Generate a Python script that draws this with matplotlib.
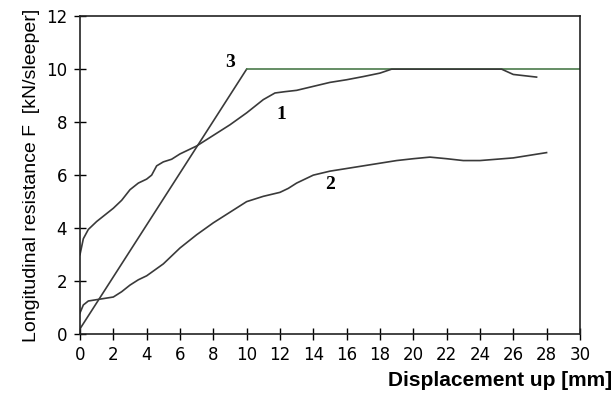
import numpy as np
import matplotlib.pyplot as plt

plt.rcParams['font.family'] = ['Liberation Sans', 'DejaVu Sans']

# curve 1
x1 = [0, 0.2, 0.5, 1, 1.5, 2, 2.5, 3, 3.5, 4, 4.3, 4.6, 5, 5.5, 6, 7, 8, 9, 10, 11,
      11.7, 12.3, 13, 14, 15, 16, 17, 18, 18.7, 20, 22, 24, 25.3, 26, 27.4]
y1 = [3.0, 3.6, 3.95, 4.25, 4.5, 4.75, 5.05, 5.45, 5.7, 5.85, 6.0, 6.35, 6.5, 6.6, 6.8, 7.1, 7.5,
      7.9, 8.35, 8.85, 9.1, 9.15, 9.2, 9.35, 9.5, 9.6, 9.72, 9.85, 10.0, 10.0, 10.0, 10.0, 10.0, 9.8, 9.7]

# curve 2
x2 = [0, 0.2, 0.5, 1, 1.5, 2, 2.5, 3, 3.5, 4, 5, 6, 7, 8, 9, 10, 11, 12, 12.5, 13,
      13.5, 14, 15, 16, 17, 18, 19, 20, 21, 22, 23, 24, 25, 26, 27, 28]
y2 = [0.8, 1.1, 1.25, 1.3, 1.35, 1.4, 1.6, 1.85, 2.05, 2.2, 2.65, 3.25, 3.75, 4.2, 4.6, 5.0, 5.2,
      5.35, 5.5, 5.7, 5.85, 6.0, 6.15, 6.25, 6.35, 6.45, 6.55, 6.62, 6.68, 6.62, 6.55, 6.55, 6.6,
      6.65, 6.75, 6.85]

# curve 3 (bilinear)
x3 = [0, 10]
y3 = [0.2, 10]
x3_flat = [10, 30]
y3_flat = [10, 10]

xticks = list(range(0, 31, 2))
yticks = list(range(0, 13, 2))

fig = plt.figure(figsize=(6.13, 3.94), dpi=100)
ax = fig.add_axes([0.1305, 0.152, 0.8155, 0.807])

line_col = '#3a3a3a'
ax.plot(x3, y3, color=line_col, lw=1.2)
ax.plot(x3_flat, y3_flat, color='#4a7a4a', lw=1.2)
ax.plot(x1, y1, color=line_col, lw=1.2)
ax.plot(x2, y2, color=line_col, lw=1.2)

lbl = dict(family=['Liberation Serif', 'DejaVu Serif'], fontweight='bold', fontsize=14,
           ha='center', va='center')
ax.text(9.0, 10.25, '3', **lbl)
ax.text(12.1, 8.3, '1', **lbl)
ax.text(15.0, 5.65, '2', **lbl)

ax.set_xlim(0, 30)
ax.set_ylim(0, 12)
ax.set_xticks(xticks)
ax.set_yticks(yticks)
ax.tick_params(direction='inout', length=8.5, width=1, labelsize=12)
ax.tick_params(axis='y', pad=5)
ax.tick_params(axis='x', pad=4.5)
for t in ax.get_xticklabels() + ax.get_yticklabels():
    t.set_family('DejaVu Sans')
for s in ax.spines.values():
    s.set_linewidth(1.2)
    s.set_color('#222222')

ax.set_ylabel('Longitudinal resistance F  [kN/sleeper]', fontsize=14, labelpad=4)
fig.text(0.998, 0.035, 'Displacement up [mm]', fontsize=15, fontweight='bold',
         ha='right', va='center')

fig.savefig('out.png', dpi=100)
